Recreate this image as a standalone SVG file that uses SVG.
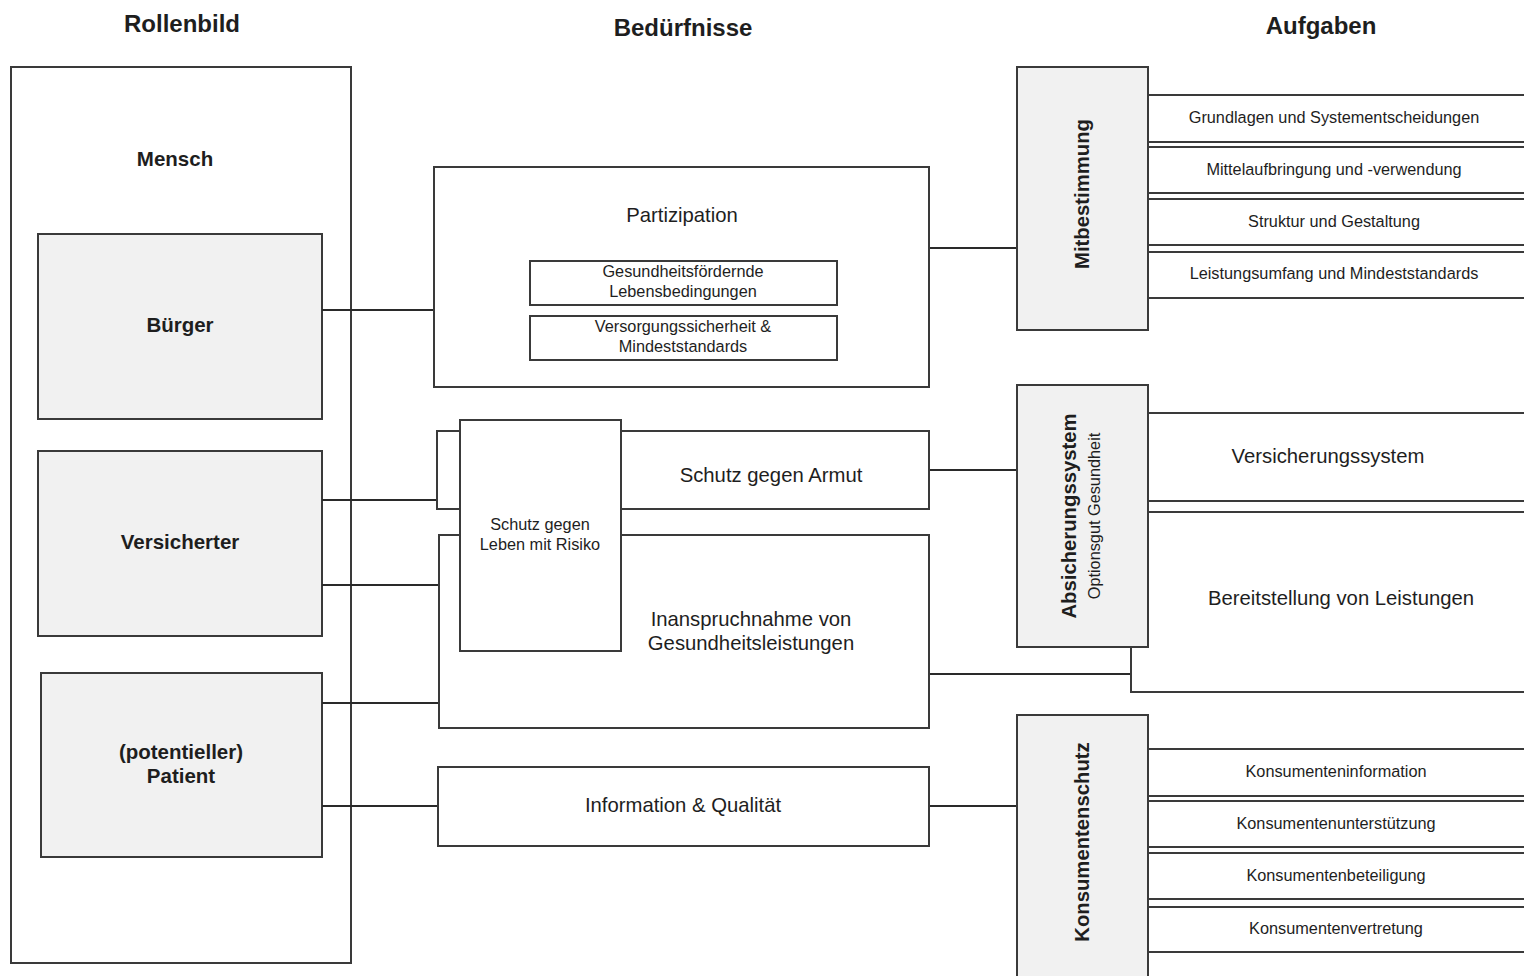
<svg xmlns="http://www.w3.org/2000/svg" width="1524" height="976" viewBox="0 0 1524 976">
  <style>
    .box { fill: #ffffff; stroke: #3a3a3a; stroke-width: 2; }
    .role { fill: #f1f1f1; stroke: #3a3a3a; stroke-width: 2; }
    .line { fill: none; stroke: #2a2a2a; stroke-width: 2; }
    text { font-family: "Liberation Sans", Arial, sans-serif; fill: #1e1e1e; text-anchor: middle; }
    .head { font-size: 24px; font-weight: bold; }
    .bold { font-size: 20.5px; font-weight: bold; }
    .mid { font-size: 20.3px; }
    .small { font-size: 16.3px; }
    .vbold { font-size: 20.3px; font-weight: bold; }
  </style>

  <rect width="1524" height="976" fill="#ffffff"/>

  <!-- column headings -->
  <g id="headings">
    <text class="head" x="182" y="32">Rollenbild</text>
    <text class="head" x="683" y="36">Bedürfnisse</text>
    <text class="head" x="1321" y="34">Aufgaben</text>
  </g>

  <!-- role column -->
  <g id="mensch">
    <rect class="box" x="11" y="67" width="340" height="896"/>
    <text class="bold" x="175" y="166">Mensch</text>
  </g>
  <g id="buerger">
    <rect class="role" x="38" y="234" width="284" height="185"/>
    <text class="bold" x="180" y="332">Bürger</text>
  </g>
  <g id="versicherter">
    <rect class="role" x="38" y="451" width="284" height="185"/>
    <text class="bold" x="180" y="549">Versicherter</text>
  </g>
  <g id="patient">
    <rect class="role" x="41" y="673" width="281" height="184"/>
    <text class="bold" x="181" y="759">(potentieller)</text>
    <text class="bold" x="181" y="783">Patient</text>
  </g>

  <!-- connectors -->
  <g id="connectors">
    <path class="line" d="M322 310 H434"/>
    <path class="line" d="M322 500 H437"/>
    <path class="line" d="M437 431 V509"/>
    <path class="line" d="M322 585 H439"/>
    <path class="line" d="M322 703 H439"/>
    <path class="line" d="M322 806 H438"/>
    <path class="line" d="M929 248 H1017"/>
    <path class="line" d="M929 470 H1017"/>
    <path class="line" d="M929 674 H1131"/>
    <path class="line" d="M929 806 H1017"/>
  </g>

  <!-- needs column -->
  <g id="partizipation">
    <rect class="box" x="434" y="167" width="495" height="220"/>
    <text class="mid" x="682" y="222">Partizipation</text>
  </g>
  <g id="gesundheitsfoerdernde">
    <rect class="box" x="530" y="261" width="307" height="44"/>
    <text class="small" x="683" y="277">Gesundheitsfördernde</text>
    <text class="small" x="683" y="297">Lebensbedingungen</text>
  </g>
  <g id="versorgungssicherheit">
    <rect class="box" x="530" y="316" width="307" height="44"/>
    <text class="small" x="683" y="332">Versorgungssicherheit &amp;</text>
    <text class="small" x="683" y="352">Mindeststandards</text>
  </g>
  <g id="armut">
    <rect class="box" x="437" y="431" width="492" height="78"/>
    <text class="mid" x="771" y="482">Schutz gegen Armut</text>
  </g>
  <g id="inanspruchnahme">
    <rect class="box" x="439" y="535" width="490" height="193"/>
    <text class="mid" x="751" y="626">Inanspruchnahme von</text>
    <text class="mid" x="751" y="650">Gesundheitsleistungen</text>
  </g>
  <g id="risiko">
    <rect class="box" x="460" y="420" width="161" height="231"/>
    <text class="small" x="540" y="530">Schutz gegen</text>
    <text class="small" x="540" y="550">Leben mit Risiko</text>
  </g>
  <g id="information">
    <rect class="box" x="438" y="767" width="491" height="79"/>
    <text class="mid" x="683" y="812">Information &amp; Qualität</text>
  </g>

  <!-- task rows: Mitbestimmung -->
  <g id="mitbestimmung-rows">
    <rect class="box" x="1148" y="95" width="390" height="47"/>
    <text class="small" x="1334" y="123">Grundlagen und Systementscheidungen</text>
    <rect class="box" x="1148" y="147" width="390" height="46"/>
    <text class="small" x="1334" y="175">Mittelaufbringung und -verwendung</text>
    <rect class="box" x="1148" y="199" width="390" height="46"/>
    <text class="small" x="1334" y="227">Struktur und Gestaltung</text>
    <rect class="box" x="1148" y="252" width="390" height="46"/>
    <text class="small" x="1334" y="279">Leistungsumfang und Mindeststandards</text>
  </g>
  <g id="mitbestimmung">
    <rect class="role" x="1017" y="67" width="131" height="263"/>
    <text class="vbold" transform="translate(1089 194) rotate(-90)">Mitbestimmung</text>
  </g>

  <!-- task rows: Absicherungssystem -->
  <g id="absicherung-rows">
    <rect class="box" x="1148" y="413" width="390" height="88"/>
    <text class="mid" x="1328" y="463">Versicherungssystem</text>
    <rect class="box" x="1131" y="512" width="407" height="180"/>
    <text class="mid" x="1341" y="605">Bereitstellung von Leistungen</text>
  </g>
  <g id="absicherungssystem">
    <rect class="role" x="1017" y="385" width="131" height="262"/>
    <text class="vbold" transform="translate(1076 516) rotate(-90)">Absicherungssystem</text>
    <text class="small" transform="translate(1100 516) rotate(-90)">Optionsgut Gesundheit</text>
  </g>

  <!-- task rows: Konsumentenschutz -->
  <g id="konsumentenschutz-rows">
    <rect class="box" x="1148" y="749" width="390" height="47"/>
    <text class="small" x="1336" y="777">Konsumenteninformation</text>
    <rect class="box" x="1148" y="801" width="390" height="46"/>
    <text class="small" x="1336" y="829">Konsumentenunterstützung</text>
    <rect class="box" x="1148" y="853" width="390" height="46"/>
    <text class="small" x="1336" y="881">Konsumentenbeteiligung</text>
    <rect class="box" x="1148" y="907" width="390" height="45"/>
    <text class="small" x="1336" y="934">Konsumentenvertretung</text>
  </g>
  <g id="konsumentenschutz">
    <rect class="role" x="1017" y="715" width="131" height="280"/>
    <text class="vbold" transform="translate(1089 842) rotate(-90)">Konsumentenschutz</text>
  </g>
</svg>
